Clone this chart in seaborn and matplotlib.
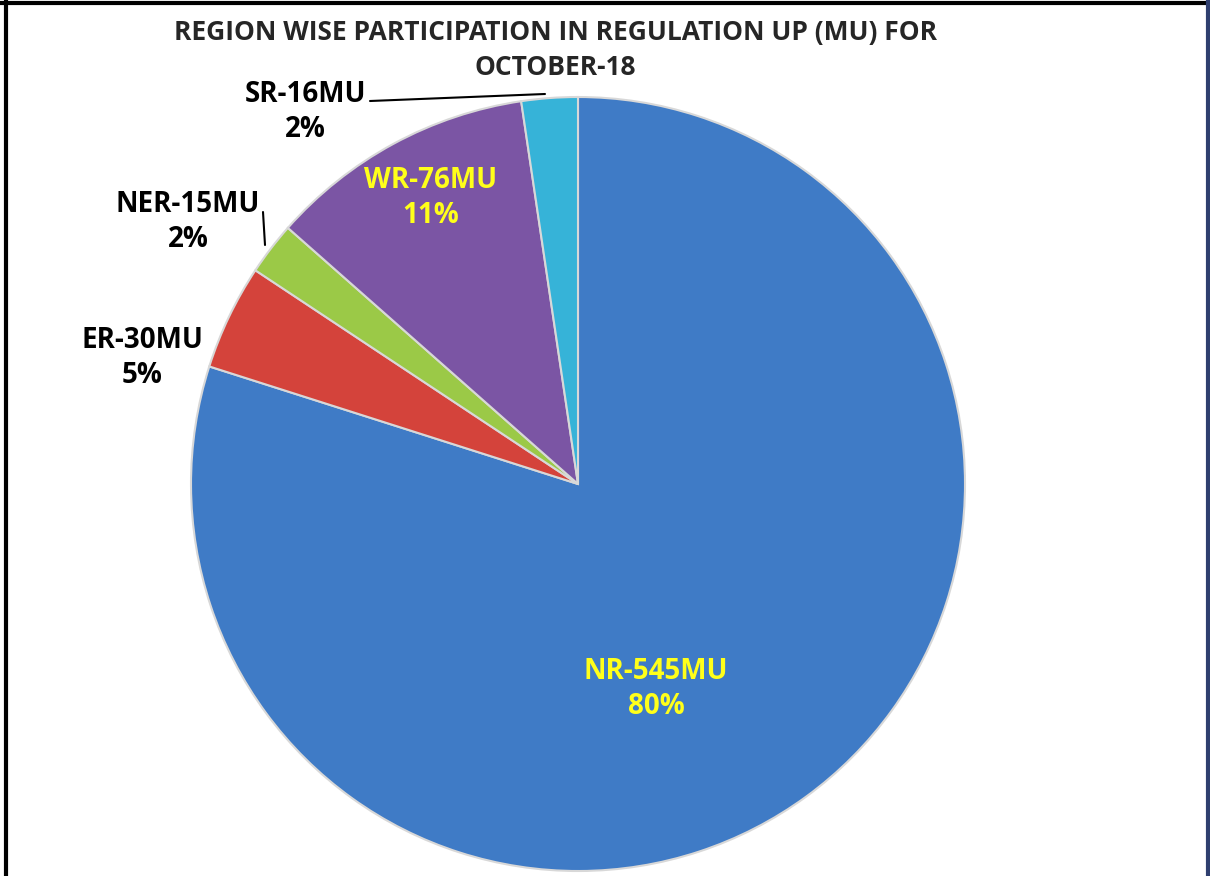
import seaborn as sns
import matplotlib.pyplot as plt

sns.set_theme(style="white")
plt.rcParams['font.family'] = ['Open Sans', 'DejaVu Sans']

regions = ["NR", "ER", "NER", "WR", "SR"]
mu = [545, 30, 15, 76, 16]
pct_labels = ["80%", "5%", "2%", "11%", "2%"]
colors = ["#3f7bc6", "#d4433b", "#9bc947", "#7b55a4", "#36b3d8"]

fig = plt.figure(figsize=(12.1, 8.76), dpi=100)
ax = fig.add_axes([0, 0, 1, 1])

# pie drawn on inverted y axis -> counterclock=True gives clockwise on screen
wedges, _ = ax.pie(mu, colors=colors, startangle=-90, counterclock=True,
                   center=(578, 484), radius=387, frame=True,
                   explode=[0.012, 0, 0, 0, 0],
                   wedgeprops=dict(edgecolor="#d8d8d8", linewidth=1.5))
ax.set_xlim(0, 1210)
ax.set_ylim(876, 0)
ax.set_aspect("equal")
ax.axis("off")

# labels
lab_style = dict(ha="center", va="center", fontsize=20, fontweight="bold", linespacing=1.3)
ax.text(656, 689, f"{regions[0]}-{mu[0]}MU\n{pct_labels[0]}", color="#ffff1a", **lab_style)
ax.text(142, 358, f"{regions[1]}-{mu[1]}MU\n{pct_labels[1]}", color="black", **lab_style)
ax.text(188, 222, f"{regions[2]}-{mu[2]}MU\n{pct_labels[2]}", color="black", **lab_style)
ax.text(431, 198, f"{regions[3]}-{mu[3]}MU\n{pct_labels[3]}", color="#ffff1a", **lab_style)
ax.text(305, 112, f"{regions[4]}-{mu[4]}MU\n{pct_labels[4]}", color="black", **lab_style)

# leader lines
ax.plot([370, 545], [101, 94], color="black", lw=1.5)
ax.plot([263, 265], [212, 245], color="black", lw=1.5)

ax.text(555, 50, "REGION WISE PARTICIPATION IN REGULATION UP (MU) FOR\nOCTOBER-18",
        ha="center", va="center", fontsize=19, fontweight="bold", linespacing=1.4)

# frame
ax.plot([0, 1210], [3, 3], color="black", lw=3)
ax.plot([6, 6], [0, 876], color="black", lw=3)
ax.plot([1208, 1208], [0, 876], color="#2f3f6f", lw=3)

fig.savefig("out.png", dpi=100)
